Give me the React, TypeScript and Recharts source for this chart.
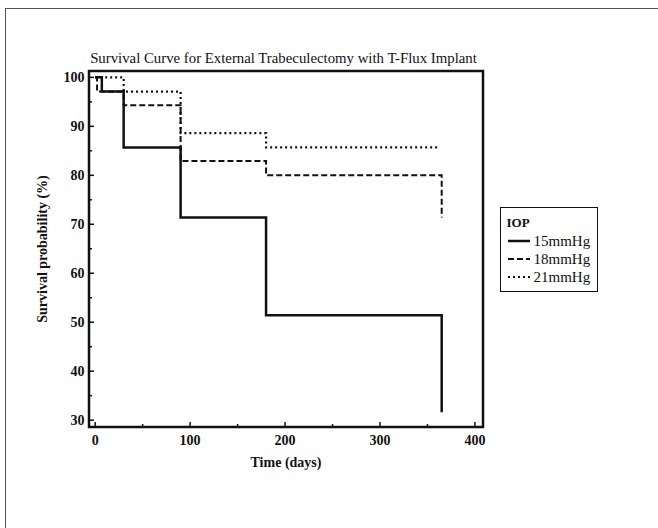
import React from 'react'
import {
  LineChart,
  Line,
  XAxis,
  YAxis,
  Legend,
  ReferenceArea,
} from 'recharts'

// Kaplan-Meier steps (days -> survival %)
const iop15Days = [0, 7, 30, 90, 180, 365]
const iop15Survival = [100, 97.1, 85.7, 71.4, 51.4, 31.6]
const iop18Days = [0, 2, 30, 90, 180, 365]
const iop18Survival = [100, 97.1, 94.3, 82.9, 80.0, 71.4]
const iop21Days = [0, 30, 90, 180, 362]
const iop21Survival = [100, 97.1, 88.6, 85.7, 85.7]

const xTicks = [0, 50, 100, 150, 200, 250, 300, 350, 400]
const yTicks = [30, 35, 40, 45, 50, 55, 60, 65, 70, 75, 80, 85, 90, 95, 100]
const xDomain: [number, number] = [-6.5, 408.5]
const yDomain: [number, number] = [28.6, 101.3]

const FONT = '"Liberation Serif", "Times New Roman", serif'
const INK = '#111'

const toPoints = (days: number[], surv: number[]) =>
  days.map((t, i) => ({ t, s: surv[i] }))

const SERIES = [
  { name: '15mmHg', data: toPoints(iop15Days, iop15Survival), dash: undefined, width: 2.5 },
  { name: '18mmHg', data: toPoints(iop18Days, iop18Survival), dash: '6 3', width: 2 },
  { name: '21mmHg', data: toPoints(iop21Days, iop21Survival), dash: '2 3', width: 2.2 },
]

/**
 * Inward tick marks, labels only on major values
 */
const XTick = (props: any) => {
  const { x, y, payload } = props
  const major = payload.value % 100 === 0
  return (
    <g>
      <line x1={x} x2={x} y1={y} y2={y - (major ? 5 : 3)} stroke={INK} strokeWidth={1.5} />
      {major && (
        <text x={x} y={y + 13} dy="0.35em" textAnchor="middle"
          fontFamily={FONT} fontSize={14} fontWeight="bold" fill={INK}>
          {payload.value}
        </text>
      )}
    </g>
  )
}

const YTick = (props: any) => {
  const { x, y, payload } = props
  const major = payload.value % 10 === 0
  return (
    <g>
      <line x1={x} x2={x + (major ? 5 : 3)} y1={y} y2={y} stroke={INK} strokeWidth={1.5} />
      {major && (
        <text x={x - 4.5} y={y} dy="0.35em" textAnchor="end"
          fontFamily={FONT} fontSize={14} fontWeight="bold" fill={INK}>
          {payload.value}
        </text>
      )}
    </g>
  )
}

const LegendBox = (props: any) => {
  const items = props.payload || []
  return (
    <div style={{
      width: 98, height: 85, boxSizing: 'border-box', border: `1.5px solid ${INK}`,
      padding: '6px 0 0 5.5px', fontFamily: FONT, color: INK, background: '#fff',
    }}>
      <div style={{ height: 18, lineHeight: '18px', fontSize: 13, fontWeight: 'bold' }}>IOP</div>
      {items.map((entry: any) => {
        const s = SERIES.find(d => d.name === entry.value)
        return (
          <div key={entry.value} style={{ height: 18, display: 'flex', alignItems: 'center' }}>
            <svg width={27} height={18}>
              <line x1={1} x2={23} y1={9} y2={9} stroke={INK}
                strokeWidth={s ? s.width : 2} strokeDasharray={s?.dash} />
            </svg>
            <span style={{ fontSize: 15, lineHeight: '18px' }}>{entry.value}</span>
          </div>
        )
      })}
    </div>
  )
}

export default function App() {
  return (
    <div style={{ position: 'absolute', left: 0, top: 0, width: 658, height: 528, background: '#fff' }}>
      <div style={{
        position: 'absolute', left: 5, top: 8, right: 0, bottom: 0,
        borderTop: '1.5px solid #555', borderLeft: '1.5px solid #555',
      }} />
      <div style={{
        position: 'absolute', left: 0, top: 50, width: 567, textAlign: 'center',
        fontFamily: FONT, fontSize: 14.8, lineHeight: '16px', color: INK,
      }}>
        Survival Curve for External Trabeculectomy with T-Flux Implant
      </div>
      <LineChart width={658} height={528} margin={{ top: 71, right: 175, bottom: 56, left: 20 }}>
        <XAxis
          type="number"
          dataKey="t"
          domain={xDomain}
          ticks={xTicks}
          interval={0}
          allowDataOverflow
          height={45}
          axisLine={false}
          tickLine={false}
          tickSize={0}
          tickMargin={0}
          tick={XTick}
          label={{
            value: 'Time (days)', position: 'insideBottom', offset: 5,
            style: { fontFamily: FONT, fontSize: 14, fontWeight: 'bold', fill: INK },
          }}
        />
        <YAxis
          type="number"
          domain={yDomain}
          ticks={yTicks}
          interval={0}
          allowDataOverflow
          width={69}
          axisLine={false}
          tickLine={false}
          tickSize={0}
          tickMargin={0}
          tick={YTick}
          label={{
            value: 'Survival probability (%)', angle: -90, position: 'insideLeft', offset: 22,
            style: { textAnchor: 'middle', fontFamily: FONT, fontSize: 14, fontWeight: 'bold', fill: INK },
          }}
        />
        {SERIES.map(s => (
          <Line
            key={s.name}
            name={s.name}
            data={s.data}
            dataKey="s"
            type="stepAfter"
            stroke={INK}
            strokeWidth={s.width}
            strokeDasharray={s.dash}
            dot={false}
            activeDot={false}
            isAnimationActive={false}
          />
        ))}
        <ReferenceArea
          x1={xDomain[0]}
          x2={xDomain[1]}
          y1={yDomain[0]}
          y2={yDomain[1]}
          fill="none"
          stroke={INK}
          strokeWidth={2.5}
          ifOverflow="visible"
        />
        <Legend
          layout="vertical"
          align="center"
          verticalAlign="middle"
          wrapperStyle={{ left: 500, top: 207, width: 98 }}
          content={LegendBox}
        />
      </LineChart>
    </div>
  )
}
